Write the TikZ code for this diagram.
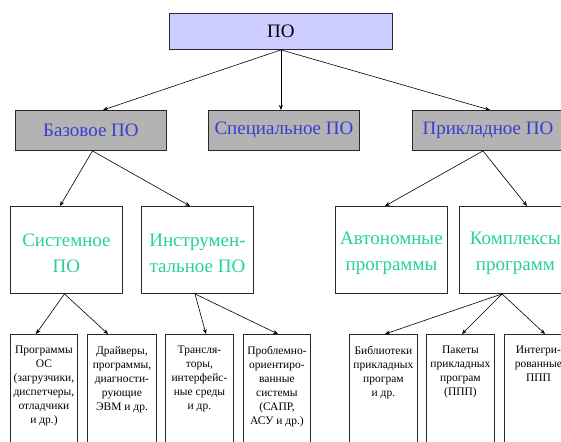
\documentclass[tikz,border=0pt]{standalone}
\usepackage{fontspec}
\setmainfont{Liberation Serif}
\usetikzlibrary{arrows.meta,calc}
\definecolor{topfill}{RGB}{204,204,255}
\definecolor{grayfill}{RGB}{179,179,179}
\definecolor{bluetxt}{RGB}{60,60,210}
\definecolor{greentxt}{RGB}{40,210,150}
\definecolor{edge}{RGB}{40,40,40}
\newcommand\lowtxt[2]{\parbox[c][120pt][t]{#1}{\centering\vspace*{12pt}#2\par}}
\newcommand\midstrut{\rule{0pt}{19.5pt}}
\begin{document}
\begin{tikzpicture}[x=1pt,y=-1pt,
  boxbase/.style={draw=edge,line width=0.9pt,rectangle,inner sep=0pt,anchor=north west},
  topbox/.style={boxbase,fill=topfill,minimum width=223,minimum height=36,font=\fontsize{19}{22}\selectfont},
  secbox/.style={boxbase,fill=grayfill,minimum width=151,minimum height=40,text=bluetxt,font=\fontsize{19}{22}\selectfont},
  thirdbox/.style={boxbase,fill=white,minimum width=112,minimum height=87,text=greentxt,align=center,font=\fontsize{19}{26}\selectfont},
  lowbox/.style={boxbase,fill=white,font=\fontsize{11.5}{14}\selectfont},
  arr/.style={draw=black,line width=0.6pt,-{Stealth[length=5pt,width=4pt]}}
]
\useasboundingbox (0,0) rectangle (561,441);
\clip (0,0) rectangle (561,441);
\fill[white] (0,0) rectangle (561,441);

\node[topbox] (po) at (169,13) {ПО};

\node[secbox] (baz) at (15,110) {Базовое ПО};
\node[secbox] (spec) at (208,110) {Специальное ПО};
\node[secbox] (prik) at (412,110) {Прикладное ПО};

\node[thirdbox] (sys) at (10,206) {\midstrut Системное\\ПО};
\node[thirdbox] (instr) at (141,206) {\midstrut Инструмен-\\тальное ПО};
\node[thirdbox] (avt) at (335,206) {\midstrut Автономные\\программы};
\node[thirdbox] (kompl) at (459,206) {\midstrut Комплексы\\программ};

\node[lowbox] (b1) at (10,334) {\lowtxt{67pt}{Программы\\ОС\\(загрузчики,\\диспетчеры,\\отладчики\\и др.)}};
\node[lowbox] (b2) at (87,334) {\lowtxt{69pt}{Драйверы,\\программы,\\диагности-\\рующие\\ЭВМ и др.}};
\node[lowbox] (b3) at (165,334) {\lowtxt{68pt}{Трансля-\\торы,\\интерфейс-\\ные среды\\и др.}};
\node[lowbox] (b4) at (243,334) {\lowtxt{67pt}{Проблемно-\\ориентиро-\\ванные\\системы\\(САПР,\\АСУ и др.)}};
\node[lowbox] (b5) at (349,334) {\lowtxt{68pt}{Библиотеки\\прикладных\\програм\\и др.}};
\node[lowbox] (b6) at (426,334) {\lowtxt{68pt}{Пакеты\\прикладных\\програм\\(ППП)}};
\node[lowbox] (b7) at (504,334) {\lowtxt{68pt}{Интегри-\\рованные\\ППП}};

% level 1 -> 2
\draw[arr] (po.south) -- ($(baz.north west)+(88,0)$);
\draw[arr] (po.south) -- (po.south |- spec.north);
\draw[arr] (po.south) -- ($(prik.north west)+(78,0)$);

% level 2 -> 3
\draw[arr] ($(baz.south)+(1.5,0)$) -- ($(sys.north west)+(50,0)$);
\draw[arr] ($(baz.south)+(1.5,0)$) -- ($(instr.north west)+(49,0)$);
\draw[arr] ($(prik.south)+(-5,0)$) -- ($(avt.north west)+(50,0)$);
\draw[arr] ($(prik.south)+(-5,0)$) -- ($(kompl.north west)+(68,0)$);

% level 3 -> 4
\draw[arr] ($(sys.south)+(-2,0)$) -- ($(b1.north west)+(26,0)$);
\draw[arr] ($(sys.south)+(-2,0)$) -- ($(b2.north west)+(21,0)$);
\draw[arr] ($(instr.south)+(-2.5,0)$) -- ($(b3.north west)+(41,0)$);
\draw[arr] ($(instr.south)+(-2.5,0)$) -- ($(b4.north west)+(35,0)$);
\draw[arr] ($(kompl.south west)+(43,0)$) -- ($(b5.north west)+(36,0)$);
\draw[arr] ($(kompl.south west)+(43,0)$) -- ($(b6.north west)+(36,0)$);
\draw[arr] ($(kompl.south west)+(43,0)$) -- ($(b7.north west)+(41,0)$);
\end{tikzpicture}
\end{document}
